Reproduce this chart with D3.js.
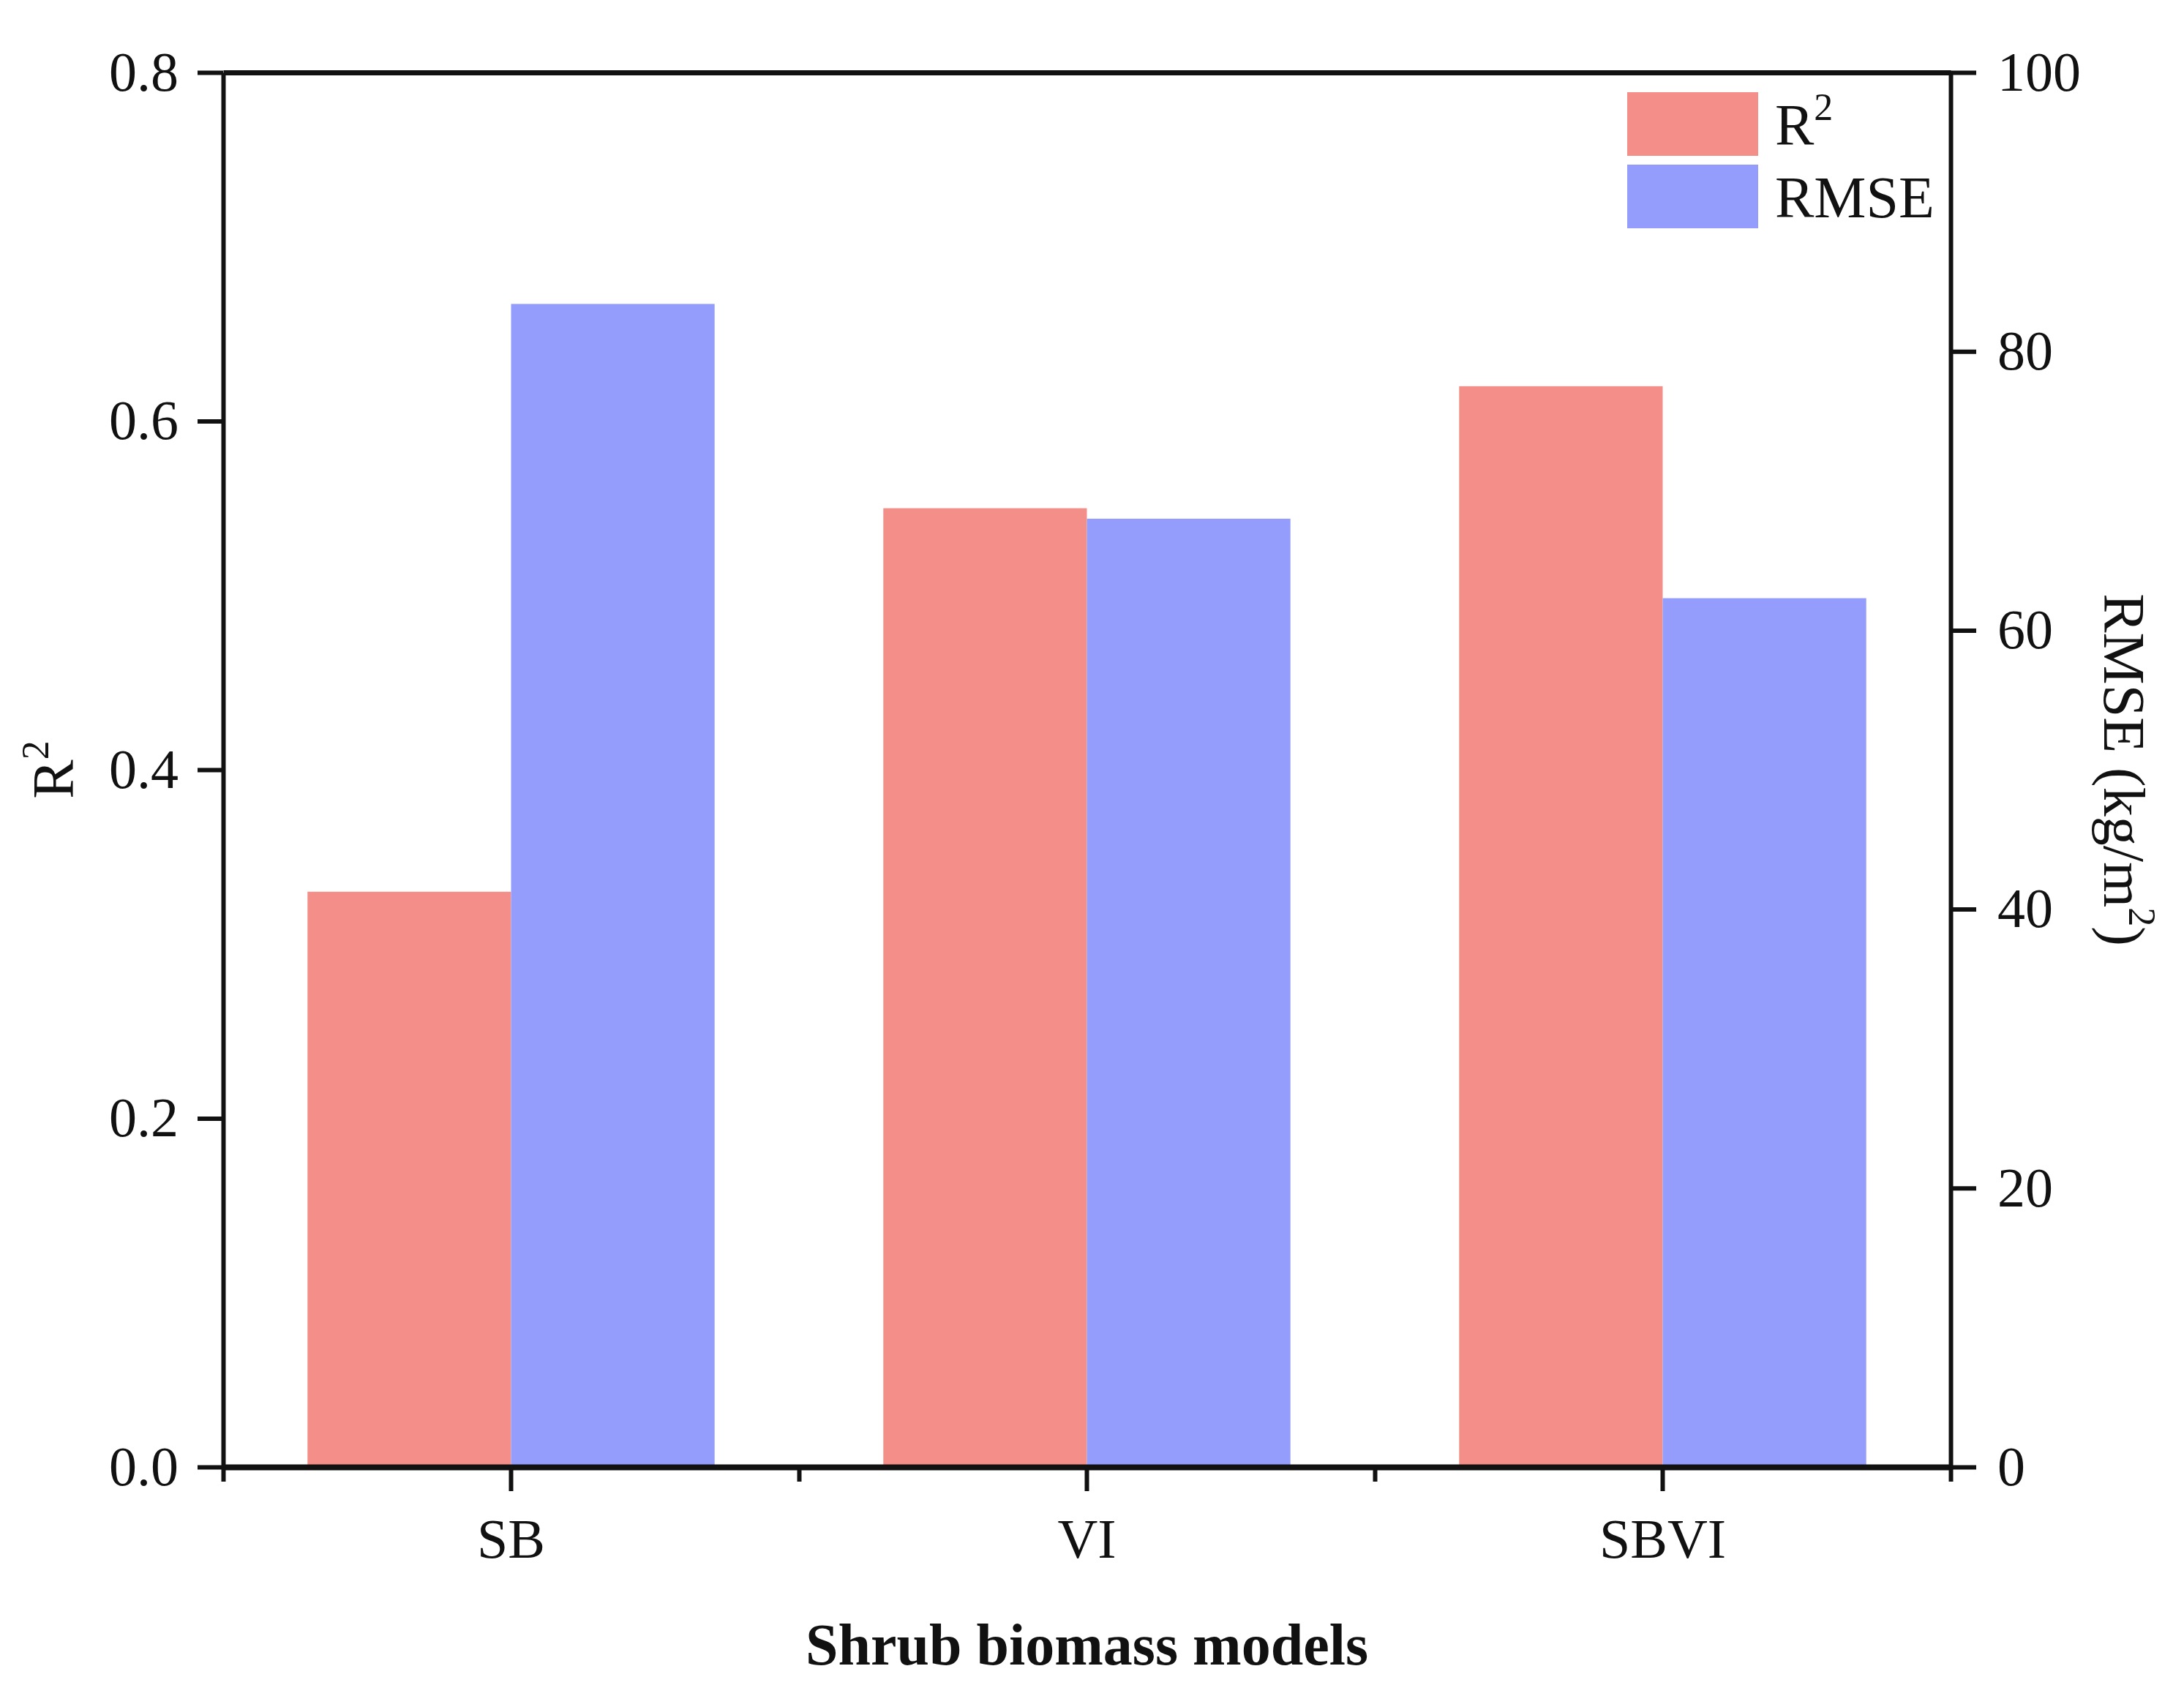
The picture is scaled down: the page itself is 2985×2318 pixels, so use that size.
<!DOCTYPE html>
<html>
<head>
<meta charset="utf-8">
<script src="https://cdn.jsdelivr.net/npm/d3@7"></script>
<style>
  body { margin: 0; background: #fff; }
  text { font-family: "Times New Roman", "Liberation Serif", serif; fill: #111; }
</style>
</head>
<body>
<div id="chart"></div>
<script>
// data
var models = ["SB", "VI", "SBVI"];
var r2Values = [0.33, 0.55, 0.62];
var rmseValues = [83.4, 68.0, 62.3];
var r2Ticks = [0, 0.2, 0.4, 0.6, 0.8];
var rmseTicks = [0, 20, 40, 60, 80, 100];
var seriesNames = ["R2", "RMSE"];
var seriesColors = ["#F48E88", "#949DFB"];

var svgWidth = 2985;
var svgHeight = 2318;

var margin = { top: 99, right: 319, bottom: 313, left: 305 };
var chartWidth = svgWidth - margin.left - margin.right;
var chartHeight = svgHeight - margin.top - margin.bottom;

var svg = d3.select("#chart")
  .append("svg")
  .attr("width", svgWidth)
  .attr("height", svgHeight);

var chartGroup = svg.append("g")
  .attr("transform", `translate(${margin.left}, ${margin.top})`);

// scales
var xBand = d3.scaleBand()
  .domain(models)
  .range([0, chartWidth])
  .paddingInner(0.293)
  .paddingOuter(0.1465);

var xInner = d3.scaleBand()
  .domain(seriesNames)
  .range([0, xBand.bandwidth()]);

var xEdges = d3.scaleLinear()
  .domain([0, models.length])
  .range([0, chartWidth]);

var yLeft = d3.scaleLinear().domain([0, 0.8]).range([chartHeight, 0]);
var yRight = d3.scaleLinear().domain([0, 100]).range([chartHeight, 0]);

// bars
var rows = models.map(function(m, i) {
  return { model: m, R2: r2Values[i], RMSE: rmseValues[i] };
});

chartGroup.selectAll(".bar-r2")
  .data(rows)
  .enter()
  .append("rect")
  .attr("class", "bar-r2")
  .attr("x", d => xBand(d.model) + xInner("R2"))
  .attr("width", xInner.bandwidth())
  .attr("y", d => yLeft(d.R2))
  .attr("height", d => chartHeight - yLeft(d.R2))
  .attr("fill", seriesColors[0]);

chartGroup.selectAll(".bar-rmse")
  .data(rows)
  .enter()
  .append("rect")
  .attr("class", "bar-rmse")
  .attr("x", d => xBand(d.model) + xInner("RMSE"))
  .attr("width", xInner.bandwidth())
  .attr("y", d => yRight(d.RMSE))
  .attr("height", d => chartHeight - yRight(d.RMSE))
  .attr("fill", seriesColors[1]);

// axes
function styleAxis(w) {
  return function(g) {
    g.select(".domain").attr("stroke", "#111").attr("stroke-width", w);
    g.selectAll(".tick line").attr("stroke", "#111").attr("stroke-width", 6);
    g.selectAll(".tick text").attr("font-size", 76).attr("fill", "#111")
      .style("font-family", "'Times New Roman', 'Liberation Serif', serif");
  };
}

// top frame line
chartGroup.append("g")
  .call(d3.axisTop(xEdges).tickValues([]).tickSizeOuter(0))
  .call(styleAxis(7));

// bottom: minor ticks at band edges
chartGroup.append("g")
  .attr("transform", `translate(0, ${chartHeight})`)
  .call(d3.axisBottom(xEdges).tickValues([0, 1, 2, 3]).tickSize(20).tickSizeOuter(0).tickFormat(""))
  .call(styleAxis(8));

// bottom: category ticks
chartGroup.append("g")
  .attr("transform", `translate(0, ${chartHeight})`)
  .call(d3.axisBottom(xBand).tickSize(33).tickSizeOuter(0).tickPadding(37))
  .call(styleAxis(0))
  .call(g => g.select(".domain").remove());

chartGroup.append("g")
  .call(d3.axisLeft(yLeft).tickValues(r2Ticks).tickFormat(d3.format(".1f")).tickSize(35).tickSizeOuter(0).tickPadding(26))
  .call(styleAxis(6));

chartGroup.append("g")
  .attr("transform", `translate(${chartWidth}, 0)`)
  .call(d3.axisRight(yRight).tickValues(rmseTicks).tickSize(35).tickSizeOuter(0).tickPadding(29))
  .call(styleAxis(6));

// axis titles
svg.append("text")
  .attr("x", margin.left + chartWidth / 2)
  .attr("y", 2275)
  .attr("text-anchor", "middle")
  .attr("font-size", 80)
  .attr("font-weight", "bold")
  .text("Shrub biomass models");

var leftTitle = svg.append("text")
  .attr("transform", `translate(100, ${margin.top + chartHeight / 2}) rotate(-90)`)
  .attr("text-anchor", "middle")
  .attr("font-size", 80);
leftTitle.append("tspan").text("R");
leftTitle.append("tspan").attr("font-size", 52).attr("dy", -34).text("2");

var rightTitle = svg.append("text")
  .attr("transform", `translate(2876, ${margin.top + chartHeight / 2}) rotate(90)`)
  .attr("text-anchor", "middle")
  .attr("font-size", 80);
rightTitle.append("tspan").text("RMSE (kg/m");
rightTitle.append("tspan").attr("font-size", 52).attr("dy", -34).text("2");
rightTitle.append("tspan").attr("dy", 34).text(")");

// legend
var legend = svg.append("g").attr("transform", "translate(2224, 126)");
var legendItems = legend.selectAll("g")
  .data(seriesNames)
  .enter()
  .append("g")
  .attr("transform", (d, i) => `translate(0, ${i * 99})`);

legendItems.append("rect")
  .attr("width", 179)
  .attr("height", 87)
  .attr("fill", (d, i) => seriesColors[i]);

legendItems.append("text")
  .attr("x", 202)
  .attr("y", 72)
  .attr("font-size", 80)
  .each(function(d) {
    var t = d3.select(this);
    if (d === "R2") {
      t.append("tspan").text("R");
      t.append("tspan").attr("font-size", 52).attr("dy", -34).text("2");
    } else {
      t.text(d);
    }
  });
</script>
</body>
</html>
